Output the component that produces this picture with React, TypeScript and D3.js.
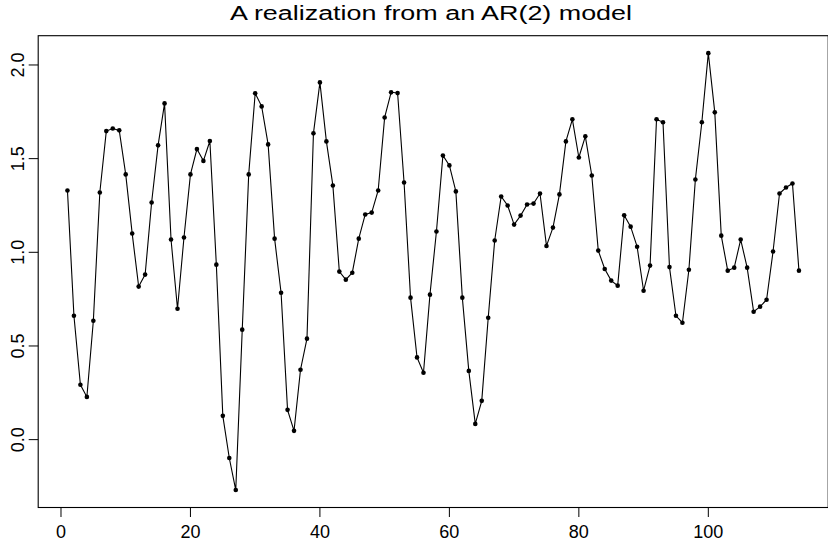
import React from "react";
import * as d3 from "d3";

const title = "A realization from an AR(2) model";
const values: number[] = [
  1.330, 0.661, 0.293, 0.228, 0.635, 1.319, 1.647, 1.661, 1.651, 1.416,
  1.100, 0.817, 0.881, 1.266, 1.571, 1.795, 1.068, 0.699, 1.079, 1.416,
  1.551, 1.488, 1.594, 0.934, 0.127, -0.098, -0.269, 0.587, 1.416, 1.849,
  1.779, 1.576, 1.073, 0.784, 0.159, 0.047, 0.373, 0.539, 1.635, 1.907,
  1.592, 1.357, 0.897, 0.854, 0.891, 1.073, 1.202, 1.212, 1.330, 1.720,
  1.854, 1.850, 1.373, 0.758, 0.439, 0.357, 0.774, 1.111, 1.517, 1.464,
  1.325, 0.758, 0.367, 0.084, 0.207, 0.651, 1.063, 1.298, 1.250, 1.148,
  1.196, 1.255, 1.260, 1.314, 1.034, 1.132, 1.309, 1.592, 1.710, 1.506,
  1.619, 1.410, 1.009, 0.911, 0.849, 0.822, 1.198, 1.137, 1.030, 0.795,
  0.929, 1.710, 1.694, 0.921, 0.661, 0.624, 0.907, 1.389, 1.694, 2.063,
  1.747, 1.089, 0.902, 0.918, 1.068, 0.918, 0.683, 0.710, 0.747, 1.004,
  1.314, 1.346, 1.367, 0.902,
];
const xTicks = [0, 20, 40, 60, 80, 100];
const yTicks = [0, 0.5, 1.0, 1.5, 2.0];

const W = 828;
const H = 544;
const left = 38.2;
const right = 828.2;
const top = 35.7;
const bottom = 507.5;
const font = "'Liberation Sans', Arial, Helvetica, sans-serif";

export default function App() {
  const idx = values.map((_, i) => i + 1);
  const xExt = d3.extent(idx) as [number, number];
  const yExt = d3.extent(values) as [number, number];
  const xPad = (xExt[1] - xExt[0]) * 0.04;
  const yPad = (yExt[1] - yExt[0]) * 0.04;
  const x = d3.scaleLinear().domain([xExt[0] - xPad, xExt[1] + xPad]).range([left, right]);
  const y = d3.scaleLinear().domain([yExt[0] - yPad, yExt[1] + yPad]).range([bottom, top]);
  const line = d3
    .line<number>()
    .x((_, i) => x(i + 1))
    .y((d) => y(d));

  return (
    <svg
      width={W}
      height={H}
      style={{ position: "absolute", left: 0, top: 0, background: "#fff" }}
      fontFamily={font}
    >
      <rect x={0} y={0} width={W} height={H} fill="#fff" />
      <text
        x={431}
        y={20}
        fontSize={20}
        textAnchor="middle"
        textLength={402}
        lengthAdjust="spacingAndGlyphs"
        fill="#000"
      >
        {title}
      </text>
      <rect
        x={left}
        y={top}
        width={right - left}
        height={bottom - top}
        fill="none"
        stroke="#000"
        strokeWidth={1.1}
      />
      {xTicks.map((t) => (
        <g key={"x" + t}>
          <line x1={x(t)} x2={x(t)} y1={bottom} y2={bottom + 9.5} stroke="#000" strokeWidth={1} />
          <text x={x(t)} y={538} fontSize={18} textAnchor="middle" fill="#000">
            {t}
          </text>
        </g>
      ))}
      {yTicks.map((t) => (
        <g key={"y" + t}>
          <line x1={left - 9.5} x2={left} y1={y(t)} y2={y(t)} stroke="#000" strokeWidth={1} />
          <text
            transform={`translate(23.5,${y(t)}) rotate(-90)`}
            fontSize={18}
            textAnchor="middle"
            fill="#000"
          >
            {t.toFixed(1)}
          </text>
        </g>
      ))}
      <path d={line(values) ?? ""} fill="none" stroke="#000" strokeWidth={1.1} />
      {values.map((v, i) => (
        <circle key={i} cx={x(i + 1)} cy={y(v)} r={2.3} fill="#000" />
      ))}
    </svg>
  );
}
